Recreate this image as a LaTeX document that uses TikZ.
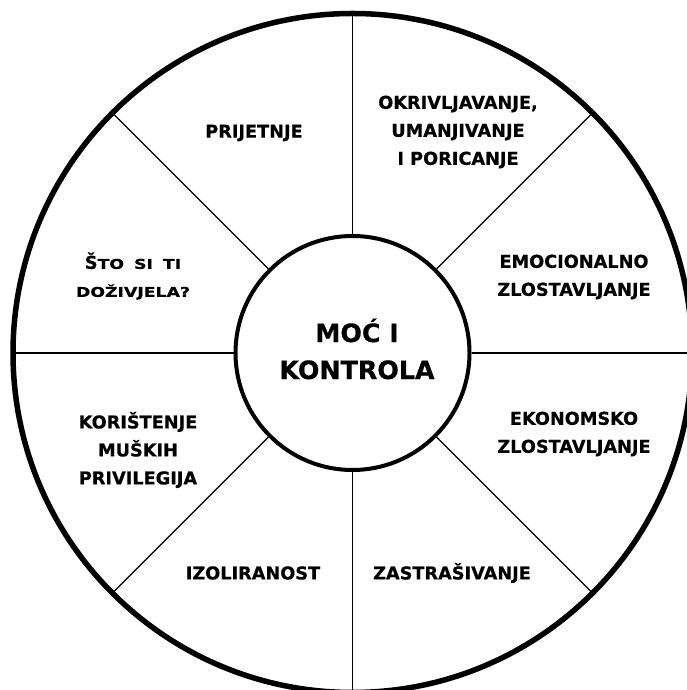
\documentclass[tikz,border=0pt]{standalone}
\usepackage{fontspec}
\setmainfont{DejaVu Sans}[BoldFeatures={FakeBold=0.6}]
\usetikzlibrary{calc}
\newcommand{\smc}[1]{{\fontsize{13.5}{28}\selectfont\scalebox{1.28}[1]{#1}}}
\begin{document}
\begin{tikzpicture}[x=1pt,y=1pt,
  lbl/.style={font=\bfseries\fontsize{17.7}{28}\selectfont, align=center, inner sep=0pt},
  spoke/.style={line width=1.2pt},
  rim/.style={line width=5.5pt}]
\useasboundingbox (0,0) rectangle (687,690);
\clip (0,0) rectangle (687,690);
\coordinate (c) at (352.5,337);
\draw[rim] (c) circle (339.5);
\node[circle, draw, line width=4pt, minimum size=234pt, inner sep=0pt] (inner) at (c) {};
\foreach \a in {0,45,...,315}{
  \coordinate (o\a) at ($(c)+(\a:337)$);
  \draw[spoke] (inner.\a) -- (o\a);
}
\node[font=\bfseries\fontsize{25.3}{37}\selectfont, align=center, inner sep=0pt] (title) at (357,341) {MOĆ I\\KONTROLA};
\node[lbl] (prij) at (254,557) {PRIJETNJE};
\node[lbl] (okr) at (458,558) {OKRIVLJAVANJE,\\UMANJIVANJE\\I PORICANJE};
\node[lbl] (emo) at (574,413) {EMOCIONALNO\\ZLOSTAVLJANJE};
\node[lbl] (eko) at (574,256) {EKONOMSKO\\ZLOSTAVLJANJE};
\node[lbl] (zas) at (452,117) {ZASTRAŠIVANJE};
\node[lbl] (izo) at (253,117) {IZOLIRANOST};
\node[lbl] (kor) at (138,240) {KORIŠTENJE\\MUŠKIH\\PRIVILEGIJA};
\node[lbl] (sto) at (133,414) {Š\smc{TO}\hspace{10pt}\smc{SI}\hspace{10pt}\smc{TI}\\\smc{DOŽIVJELA?}};
\end{tikzpicture}
\end{document}
